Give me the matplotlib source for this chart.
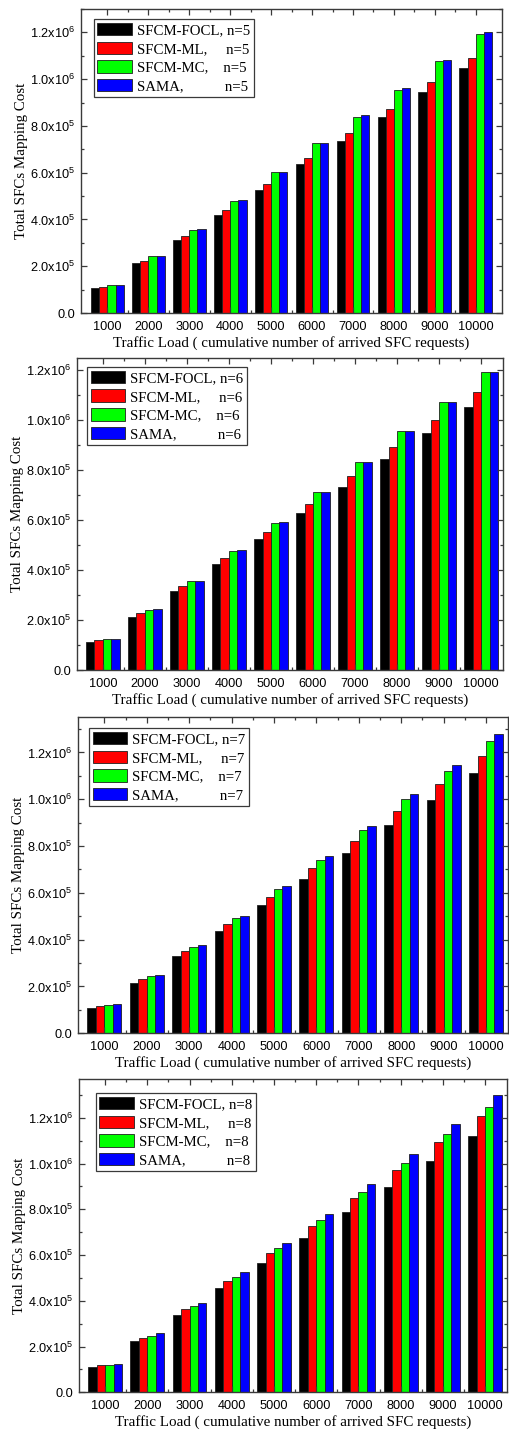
import numpy as np
import matplotlib
matplotlib.use("Agg")
import matplotlib.pyplot as plt
from matplotlib.ticker import FuncFormatter, MultipleLocator, FixedLocator

plt.rcParams["font.family"] = ["Liberation Sans", "DejaVu Sans"]
plt.rcParams["mathtext.fontset"] = "custom"
plt.rcParams["mathtext.rm"] = "Liberation Sans"
plt.rcParams["mathtext.it"] = "Liberation Sans"

loads = ["1000", "2000", "3000", "4000", "5000", "6000", "7000", "8000", "9000", "10000"]
colors = ["#000000", "#ff0000", "#00ff00", "#0000ff"]
n_values = [5, 6, 7, 8]

# total mapping cost, one list per method, per panel (n)
focl = [
    [1.08e5, 2.14e5, 3.13e5, 4.20e5, 5.27e5, 6.37e5, 7.36e5, 8.38e5, 9.44e5, 1.046e6],
    [1.12e5, 2.14e5, 3.16e5, 4.25e5, 5.23e5, 6.29e5, 7.34e5, 8.44e5, 9.48e5, 1.053e6],
    [1.10e5, 2.17e5, 3.30e5, 4.38e5, 5.48e5, 6.59e5, 7.72e5, 8.90e5, 9.97e5, 1.111e6],
    [1.095e5, 2.23e5, 3.39e5, 4.54e5, 5.65e5, 6.74e5, 7.88e5, 8.99e5, 1.013e6, 1.121e6],
]
ml = [
    [1.125e5, 2.21e5, 3.28e5, 4.39e5, 5.51e5, 6.62e5, 7.68e5, 8.73e5, 9.86e5, 1.090e6],
    [1.19e5, 2.28e5, 3.36e5, 4.49e5, 5.54e5, 6.66e5, 7.78e5, 8.92e5, 1.001e6, 1.112e6],
    [1.17e5, 2.31e5, 3.51e5, 4.66e5, 5.83e5, 7.05e5, 8.23e5, 9.49e5, 1.063e6, 1.184e6],
    [1.18e5, 2.39e5, 3.65e5, 4.88e5, 6.09e5, 7.28e5, 8.50e5, 9.71e5, 1.095e6, 1.210e6],
]
mc = [
    [1.21e5, 2.42e5, 3.56e5, 4.79e5, 6.01e5, 7.26e5, 8.39e5, 9.53e5, 1.077e6, 1.192e6],
    [1.255e5, 2.40e5, 3.58e5, 4.78e5, 5.90e5, 7.12e5, 8.32e5, 9.55e5, 1.072e6, 1.192e6],
    [1.23e5, 2.43e5, 3.69e5, 4.91e5, 6.15e5, 7.42e5, 8.67e5, 1.000e6, 1.120e6, 1.248e6],
    [1.21e5, 2.47e5, 3.75e5, 5.02e5, 6.29e5, 7.52e5, 8.77e5, 1.001e6, 1.128e6, 1.248e6],
]
sama = [
    [1.21e5, 2.42e5, 3.59e5, 4.83e5, 6.03e5, 7.29e5, 8.46e5, 9.62e5, 1.084e6, 1.201e6],
    [1.255e5, 2.43e5, 3.58e5, 4.79e5, 5.91e5, 7.13e5, 8.33e5, 9.56e5, 1.073e6, 1.194e6],
    [1.255e5, 2.48e5, 3.78e5, 5.02e5, 6.28e5, 7.59e5, 8.87e5, 1.021e6, 1.145e6, 1.278e6],
    [1.255e5, 2.57e5, 3.90e5, 5.24e5, 6.54e5, 7.81e5, 9.12e5, 1.042e6, 1.175e6, 1.299e6],
]

# layout per panel
rects = [
    [0.1588, 0.7811, 0.8255, 0.2126],
    [0.1504, 0.5313, 0.8359, 0.2186],
    [0.1523, 0.2774, 0.8447, 0.2210],
    [0.1549, 0.0264, 0.8392, 0.2191],
]
ymaxes = [1.30e6, 1.25e6, 1.35e6, 1.37e6]
xlims = [(-0.645, 9.64), (-0.62, 9.52), (-0.63, 9.53), (-0.62, 9.52)]
leg_pos = [(0.030, 0.967), (0.024, 0.970), (0.026, 0.966), (0.039, 0.955)]
frame_col = "#3a3a3a"


def sci(v, pos):
    if v < 1:
        return "0.0" if v > -1 else ""
    e = int(np.floor(np.log10(v) + 1e-9))
    m = v / 10 ** e
    return "%.1fx10$^{%d}$" % (m, e)


fig = plt.figure(figsize=(5.1, 14.3), dpi=100)
x = np.arange(len(loads))
w = 0.2

for p in range(4):
    ax = fig.add_axes(rects[p])
    series = [focl[p], ml[p], mc[p], sama[p]]
    n = n_values[p]
    labels = [
        "SFCM-FOCL, n=%d" % n,
        "SFCM-ML,     n=%d" % n,
        "SFCM-MC,    n=%d" % n,
        "SAMA,           n=%d" % n,
    ]
    for i, vals in enumerate(series):
        ax.bar(x - 0.3 + i * w, vals, width=w, color=colors[i],
               edgecolor="#202020", linewidth=0.6, label=labels[i])

    ax.set_xlim(*xlims[p])
    ax.set_ylim(0, ymaxes[p])
    ax.set_xticks(x)
    ax.set_xticklabels(loads)
    ax.xaxis.set_minor_locator(FixedLocator(x[:-1] + 0.5))
    ax.yaxis.set_major_locator(MultipleLocator(2e5))
    ax.yaxis.set_minor_locator(MultipleLocator(1e5))
    ax.yaxis.set_major_formatter(FuncFormatter(sci))

    ax.tick_params(which="both", direction="in", top=True, right=True,
                   color=frame_col, width=0.9)
    ax.tick_params(which="major", length=4.5, labelsize=9.2, pad=4)
    ax.tick_params(axis="x", which="major", pad=5.5)
    ax.tick_params(which="minor", length=2.5)
    for s in ax.spines.values():
        s.set_color(frame_col)
        s.set_linewidth(1.0)

    ax.set_xlabel("Traffic Load ( cumulative number of arrived SFC requests)",
                  family=["Liberation Serif"], fontsize=10.8, labelpad=2.5)
    ax.set_ylabel("Total SFCs Mapping Cost", family=["Liberation Serif"],
                  fontsize=10.8, labelpad=1.5)

    leg = ax.legend(loc="upper left", bbox_to_anchor=leg_pos[p], borderaxespad=0,
                    prop={"family": "Liberation Serif", "size": 10.7},
                    handlelength=2.3, handleheight=0.9, handletextpad=0.35,
                    labelspacing=0.3, borderpad=0.25, fancybox=False,
                    framealpha=1, edgecolor=frame_col)
    leg.get_frame().set_linewidth(0.9)

fig.savefig("out.png", dpi=100)
